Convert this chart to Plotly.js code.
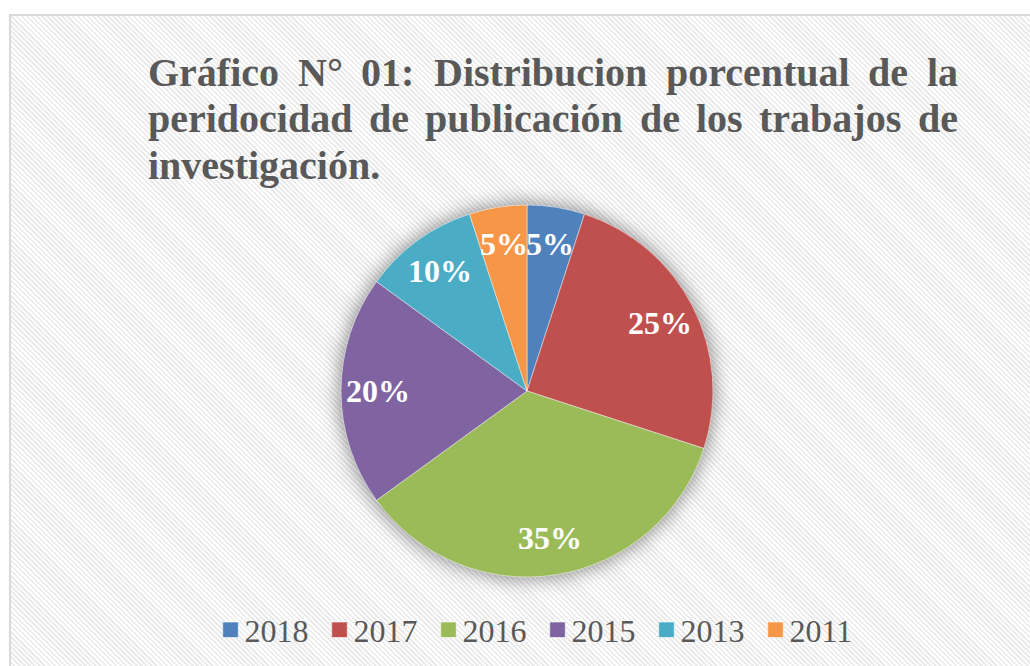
<!DOCTYPE html>
<html>
<head>
<meta charset="utf-8">
<script src="https://cdn.plot.ly/plotly-3.0.1.min.js"></script>
<style>
  html, body { margin: 0; padding: 0; background: #ffffff; width: 1030px; height: 666px; overflow: hidden; }
  #frame {
    position: absolute; left: 9px; top: 14px; width: 1040px; height: 700px;
    border: 2px solid #d9d9d9; box-sizing: border-box;
    background: repeating-linear-gradient(45deg, #ffffff 0px, #ffffff 1.8px, #ebebeb 1.8px, #ebebeb 3.6px);
  }
  #plot { position: absolute; left: 0; top: 0; width: 1030px; height: 666px; }
  #plot .pielayer { filter: drop-shadow(0px 0px 10px rgba(0,0,0,0.5)); }
  #plot .legend .traces path { scale: 1.3; }
</style>
</head>
<body>
<div id="frame"></div>
<div id="plot"></div>
<script>
// ---- data ----
const years = ["2018", "2017", "2016", "2015", "2013", "2011"];
const percentages = [5, 25, 35, 20, 10, 5];
const sliceColors = ["#4F81BD", "#C0504D", "#9BBB59", "#8064A2", "#4BACC6", "#F79646"];
const titleLines = [
  "Gráfico N° 01: Distribucion porcentual de la",
  "peridocidad de publicación de los trabajos de",
  "investigación."
];

const W = 1030, H = 666;
const titleFont = "Liberation Serif";
const titleSize = 40;
const titleLeft = 148, titleRight = 958;
const titleCenters = [72, 118.5, 165];

// measure words for justified title
const cv = document.createElement("canvas").getContext("2d");
cv.font = "bold " + titleSize + "px '" + titleFont + "'";
const annotations = [];
titleLines.forEach((line, li) => {
  const words = line.split(" ");
  const last = li === titleLines.length - 1;
  const widths = words.map(w => cv.measureText(w).width);
  const sum = widths.reduce((a, b) => a + b, 0);
  const gap = last ? cv.measureText(" ").width : (titleRight - titleLeft - sum) / (words.length - 1);
  let x = titleLeft;
  words.forEach((w, i) => {
    annotations.push({
      text: "<b>" + w + "</b>", xref: "paper", yref: "paper",
      x: x / W, y: 1 - titleCenters[li] / H, xanchor: "left", yanchor: "middle",
      showarrow: false, borderpad: 0, borderwidth: 0,
      font: { family: titleFont, size: titleSize, color: "#595959" }
    });
    x += widths[i] + gap;
  });
});

// pie geometry
const cx = 527, cy = 391, r = 186;
const domX = [(cx - r) / W, (cx + r) / W];
const domY = [1 - (cy + r) / H, 1 - (cy - r) / H];

// data labels: placed along each slice's mid-angle (clockwise from 12 o'clock)
const labelRadius = 0.8;
const total = percentages.reduce((a, b) => a + b, 0);
let cum = 0;
percentages.forEach((v) => {
  const theta = 2 * Math.PI * (cum + v / 2) / total;
  cum += v;
  const px = cx + labelRadius * r * Math.sin(theta);
  const py = cy - labelRadius * r * Math.cos(theta);
  annotations.push({
    text: "<b>" + Math.round(100 * v / total) + "%</b>",
    xref: "paper", yref: "paper", x: px / W, y: 1 - py / H,
    xanchor: "center", yanchor: "middle", showarrow: false,
    borderpad: 0, borderwidth: 0,
    font: { family: "Liberation Serif", size: 32, color: "#ffffff" }
  });
});

const trace = {
  type: "pie",
  labels: years,
  values: percentages,
  sort: false,
  direction: "clockwise",
  rotation: 0,
  marker: { colors: sliceColors, line: { color: "rgba(255,255,255,0.6)", width: 0.8 } },
  textinfo: "none",
  hoverinfo: "none",
  domain: { x: domX, y: domY }
};

const layout = {
  width: W, height: H,
  margin: { l: 0, r: 0, t: 0, b: 0 },
  paper_bgcolor: "rgba(0,0,0,0)",
  plot_bgcolor: "rgba(0,0,0,0)",
  showlegend: true,
  legend: {
    orientation: "h", x: 531 / W, xanchor: "center", y: 1 - 630 / H, yanchor: "middle",
    font: { family: "Liberation Serif", size: 32, color: "#595959" },
    itemwidth: 30, traceorder: "normal", bgcolor: "rgba(0,0,0,0)"
  },
  annotations: annotations
};

Plotly.newPlot("plot", [trace], layout, { staticPlot: true, displayModeBar: false });
</script>
</body>
</html>
